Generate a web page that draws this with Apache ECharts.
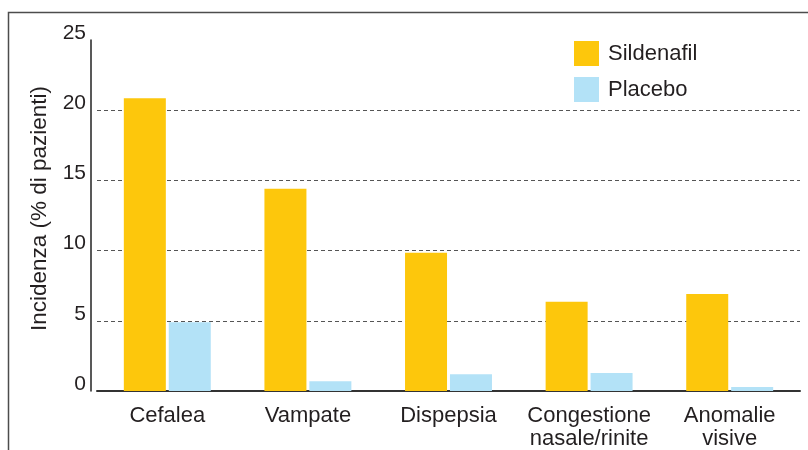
<!DOCTYPE html>
<html>
<head>
<meta charset="utf-8">
<script src="https://cdn.jsdelivr.net/npm/echarts@6/dist/echarts.min.js"></script>
<style>
  html, body { margin: 0; padding: 0; background: #fff; }
  #chart { width: 808px; height: 450px; }
</style>
</head>
<body>
<div id="chart"></div>
<script>
// data
const categories = ['Cefalea', 'Vampate', 'Dispepsia', 'Congestione\nnasale/rinite', 'Anomalie\nvisive']
const sildenafil = [20.85, 14.4, 9.85, 6.35, 6.9]
const placebo = [4.9, 0.7, 1.2, 1.28, 0.28]
const yTicks = [0, 5, 10, 15, 20, 25]

const font = 'Liberation Sans, Arial, Helvetica, sans-serif'
const textColor = '#231f20'

const chart = echarts.init(document.getElementById('chart'), null, { renderer: 'canvas' })

chart.setOption({
  animation: false,
  backgroundColor: '#fff',
  graphic: [
    {
      // frame around the figure
      type: 'rect',
      left: 6,
      top: 10,
      shape: { width: 900, height: 500 },
      style: { fill: 'none', stroke: '#4d4d4d', lineWidth: 1.5 },
      silent: true
    }
  ],
  legend: {
    orient: 'vertical',
    left: 569,
    top: 36,
    itemWidth: 25,
    itemHeight: 25,
    itemGap: 11,
    icon: 'rect',
    textStyle: {
      fontFamily: font,
      fontSize: 22,
      color: textColor,
      padding: [0, 0, 0, 4]
    },
    data: ['Sildenafil', 'Placebo']
  },
  grid: {
    left: 97,
    right: 8,
    top: 40,
    bottom: 59
  },
  xAxis: {
    type: 'category',
    data: categories,
    axisTick: { show: false },
    axisLine: { lineStyle: { color: '#333', width: 2 } },
    axisLabel: {
      fontFamily: font,
      fontSize: 22,
      color: textColor,
      margin: 13,
      lineHeight: 23,
      interval: 0
    }
  },
  yAxis: {
    type: 'value',
    min: yTicks[0],
    max: yTicks[yTicks.length - 1],
    interval: 5,
    offset: 6,
    name: 'Incidenza (% di pazienti)',
    nameLocation: 'middle',
    nameGap: 40,
    nameTextStyle: {
      fontFamily: font,
      fontSize: 22.5,
      color: textColor,
      padding: [0, 0, 0, 14]
    },
    axisLine: { show: true, lineStyle: { color: '#222', width: 1.5 } },
    axisTick: { show: false },
    axisLabel: {
      fontFamily: font,
      fontSize: 21,
      color: textColor,
      margin: 5,
      lineHeight: 14,
      verticalAlign: 'bottom'
    },
    splitLine: {
      show: true,
      showMinLine: false,
      showMaxLine: false,
      lineStyle: { color: '#555', type: [4, 3], width: 1 }
    }
  },
  series: [
    {
      name: 'Sildenafil',
      type: 'bar',
      data: sildenafil,
      barWidth: 42,
      barGap: '7%',
      itemStyle: { color: '#fdc70c' }
    },
    {
      name: 'Placebo',
      type: 'bar',
      data: placebo,
      barWidth: 42,
      barGap: '7%',
      itemStyle: { color: '#b3e2f7' }
    }
  ]
})
</script>
</body>
</html>
